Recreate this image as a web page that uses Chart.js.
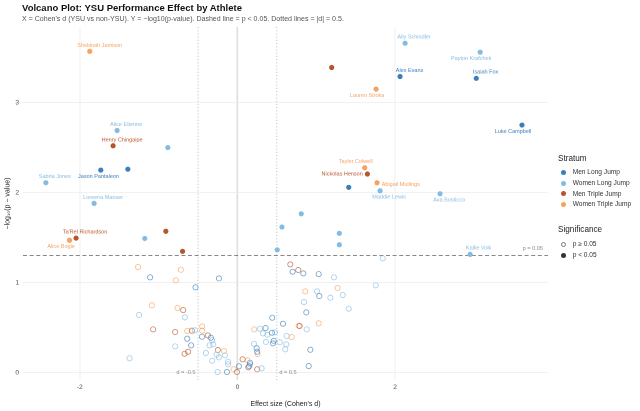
<!DOCTYPE html>
<html>
<head>
<meta charset="utf-8">
<script src="https://cdn.jsdelivr.net/npm/chart.js@4.4.1/dist/chart.umd.min.js"></script>
<style>
  body { margin: 0; background: #fff; font-family: "Liberation Sans", Arial, sans-serif; }
  #wrap { position: relative; width: 640px; height: 411px; overflow: hidden; }
  #graphCanvas { position: absolute; left: 0; top: 0; }
  .t { position: absolute; white-space: nowrap; line-height: 1; }
  #title { left: 22px; top: 2.5px; font-size: 9.5px; font-weight: bold; color: #111; }
  #subtitle { left: 22px; top: 15.4px; font-size: 7.05px; color: #555; }
  .lgTitle { font-size: 8.2px; color: #222; left: 558px; }
  .lgItem { font-size: 6.6px; color: #333; left: 572.7px; }
  .dot { position: absolute; width: 5px; height: 5px; border-radius: 50%; box-sizing: border-box; }
</style>
</head>
<body>
<div id="wrap">
  <canvas id="graphCanvas" width="640" height="411"></canvas>
  <div class="t" id="title">Volcano Plot: YSU Performance Effect by Athlete</div>
  <div class="t" id="subtitle">X = Cohen's d (YSU vs non-YSU). Y = −log10(p-value). Dashed line = p &lt; 0.05. Dotted lines = |d| = 0.5.</div>
  <div id="legend"></div>
</div>
<script>
// strata and the values (x = Cohen's d, y = -log10 p)
var strata = ['Men Long Jump', 'Women Long Jump', 'Men Triple Jump', 'Women Triple Jump'];
var significanceLevels = ['p \u2265 0.05', 'p < 0.05'];
var pCut = 0.05;
var dCut = 0.5;
var xTicks = [-2, 0, 2];
var yTicks = [0, 1, 2, 3];

var menLongNames = ['Alex Evans', 'Isaiah Fox', 'Luke Campbell', 'Jason Pantaleon', '', ''];
var menLongD = [2.063, 3.03, 3.61, -1.733, -1.39, 1.412,
  -1.107, -0.531, -0.235, -0.45, -0.637, -0.587, -0.337, 0.019, -0.133, 0.159, 0.15,
  0.244, 0.251, 0.358, 0.438, 0.46, 0.451, 0.578, 0.442, 0.7, 0.836, 1.031, 1.039,
  0.874, 0.925, 0.904];
var menLongY = [3.29, 3.27, 2.75, 2.25, 2.26, 2.058,
  1.058, 0.947, 1.046, 0.398, 0.376, 0.302, 0.387, 0.069, 0.006, 0.109, 0.07,
  0.269, 0.231, 0.494, 0.442, 0.353, 0.324, 0.542, 0.609, 1.12, 1.102, 1.094, 0.85,
  0.668, 0.253, 0.072];

var womenLongNames = ['Ally Schindler', 'Payton Krafchek', 'Alice Etienne', '', 'Sabria Jones',
  'Loreena Manser', '', 'Maddie Lewis', 'Ava Bosticco', 'Kallie Volk', '', '', '', '', ''];
var womenLongD = [2.127, 3.08, -1.526, -0.883, -2.43, -1.818, -1.175, 1.81, 2.571, 2.952,
  0.505, 0.565, 0.81, 1.293, 1.293,
  1.843, 1.755, 1.225, 1.01, 1.179, 1.336, 0.844, 1.412, 0.878, 0.625, 0.62, 0.607,
  0.536, 0.476, 0.379, 0.324, 0.286, 0.362, 0.21, 0.307, 0.159,
  -1.247, -1.369, -0.667, -0.54, -0.79, -0.4, -0.32, -0.307, -0.353, -0.264, -0.159,
  -0.235, -0.32, -0.117, -0.117, -0.251];
var womenLongY = [3.66, 3.56, 2.69, 2.5, 2.11, 1.88, 1.49, 2.02, 1.987, 1.313,
  1.364, 1.617, 1.764, 1.547, 1.42,
  1.269, 0.969, 1.058, 0.902, 0.831, 0.861, 0.783, 0.709, 0.48, 0.406, 0.313, 0.258,
  0.336, 0.446, 0.42, 0.435, 0.487, 0.339, 0.32, 0.047, 0.091,
  0.639, 0.158, 0.613, 0.469, 0.291, 0.217, 0.358, 0.313, 0.302, 0.198, 0.191,
  0.169, 0.131, 0.12, 0.091, 0.006];

var menTripleNames = ['', 'Henry Chingaipe', 'Ta\'Rel Richardson', '', '', 'Nickolas Henson'];
var menTripleD = [1.196, -1.577, -2.047, -0.908, -0.696, 1.649,
  -0.688, -1.069, -0.79, -0.578, -0.375, -0.625, -0.67, -0.248, -0.006, 0.066, 0.138,
  0.251, 0.671, 0.772, 0.79];
var menTripleY = [3.39, 2.52, 1.494, 1.57, 1.347, 2.206,
  0.694, 0.48, 0.45, 0.465, 0.413, 0.231, 0.209, 0.25, 0.006, 0.147, 0.058,
  0.036, 1.202, 1.139, 0.517];

var womenTripleNames = ['Shekinah Jamison', 'Lauren Stroka', 'Taylor Colwell', 'Abigail Mullings', 'Alice Bogie'];
var womenTripleD = [-1.873, 1.759, 1.615, 1.771, -2.13,
  -1.26, -0.717, -0.781, -1.086, -0.76, -0.447, -0.447, -0.637, -0.171, -0.048, 0.13,
  0.256, 0.213, 0.777, 1.272, 0.861, 1.031, 0.688];
var womenTripleY = [3.57, 3.15, 2.276, 2.109, 1.47,
  1.172, 1.142, 1.024, 0.747, 0.717, 0.513, 0.465, 0.461, 0.239, 0.036, 0.135,
  0.206, 0.48, 0.52, 0.939, 0.902, 0.547, 0.394];

// styling, kept apart from the values
var stratumColors = ['#3a7fb9', '#84bbe3', '#b9552b', '#f7a25f'];
var openAlpha = 0.7;
// label placement in pixels relative to the point: [dx, dy, align]
var labelNudge = {
  'Shekinah Jamison': [10, -6, 'center'], 'Ally Schindler': [9, -6, 'center'],
  'Payton Krafchek': [-9, 6.3, 'center'], 'Alex Evans': [9.5, -6, 'center'],
  'Isaiah Fox': [9.3, -6.3, 'center'], 'Lauren Stroka': [-9, 6.6, 'center'],
  'Luke Campbell': [-9, 6.4, 'center'], 'Alice Etienne': [9, -6, 'center'],
  'Henry Chingaipe': [9, -5.7, 'center'], 'Jason Pantaleon': [-2.3, 6.3, 'center'],
  'Sabria Jones': [9, -6, 'center'], 'Loreena Manser': [9, -6, 'center'],
  'Ta\'Rel Richardson': [9, -6, 'center'], 'Alice Bogie': [-8.4, 6.3, 'center'],
  'Taylor Colwell': [-9, -6, 'center'], 'Nickolas Henson': [-4.6, 0, 'right'],
  'Abigail Mullings': [4.7, 1.6, 'left'], 'Maddie Lewis': [9, 6.3, 'center'],
  'Ava Bosticco': [9, 6.3, 'center'], 'Kallie Volk': [8.5, -6.3, 'center']
};

var FONT = '"Liberation Sans", Arial, sans-serif';
var sigLine = -Math.log10(pCut);

function fade(hex, a) {
  var n = parseInt(hex.slice(1), 16);
  return 'rgba(' + (n >> 16) + ',' + ((n >> 8) & 255) + ',' + (n & 255) + ',' + a + ')';
}

function makeSet(i, xs, ys, names) {
  var col = stratumColors[i];
  return {
    label: strata[i],
    data: xs.map(function (v, j) { return { x: v, y: ys[j], name: names[j] || '' }; }),
    pointRadius: 2.6,
    pointHoverRadius: 2.6,
    pointBackgroundColor: function (c) { return c.raw && c.raw.y > sigLine ? col : 'rgba(0,0,0,0)'; },
    pointBorderColor: function (c) { return c.raw && c.raw.y > sigLine ? col : fade(col, openAlpha); },
    pointBorderWidth: function (c) { return c.raw && c.raw.y > sigLine ? 0 : 0.85; },
    color: col
  };
}

var refLines = {
  id: 'refLines',
  beforeDatasetsDraw: function (chart) {
    var ctx = chart.ctx, a = chart.chartArea, xs = chart.scales.x, ys = chart.scales.y;
    ctx.save();
    ctx.lineWidth = 0.8;
    ctx.strokeStyle = '#b5b5b5';
    ctx.setLineDash([1.2, 2]);
    [-dCut, dCut].forEach(function (d) {
      var px = xs.getPixelForValue(d);
      ctx.beginPath(); ctx.moveTo(px, a.top); ctx.lineTo(px, a.bottom); ctx.stroke();
    });
    ctx.strokeStyle = '#777';
    ctx.lineWidth = 0.9;
    ctx.setLineDash([4, 2.6]);
    var py = ys.getPixelForValue(sigLine);
    ctx.beginPath(); ctx.moveTo(a.left, py); ctx.lineTo(a.right, py); ctx.stroke();
    ctx.setLineDash([]);

    ctx.font = '5.6px ' + FONT;
    ctx.fillStyle = '#8a8a8a';
    ctx.textBaseline = 'middle';
    ctx.textAlign = 'right';
    ctx.fillText('p = 0.05', a.right - 5, py - 7);
    ctx.fillText('d = -' + dCut, xs.getPixelForValue(-dCut) - 2.5, ys.getPixelForValue(0));
    ctx.textAlign = 'left';
    ctx.fillText('d = ' + dCut, xs.getPixelForValue(dCut) + 2.5, ys.getPixelForValue(0));
    ctx.restore();
  },
  afterDatasetsDraw: function (chart) {
    var ctx = chart.ctx;
    ctx.save();
    ctx.font = '5.5px ' + FONT;
    ctx.textBaseline = 'middle';
    chart.data.datasets.forEach(function (ds, i) {
      var meta = chart.getDatasetMeta(i);
      ds.data.forEach(function (p, j) {
        if (!p.name) return;
        var el = meta.data[j], n = labelNudge[p.name] || [0, -6, 'center'];
        ctx.fillStyle = ds.color;
        ctx.textAlign = n[2];
        ctx.fillText(p.name, el.x + n[0], el.y + n[1]);
      });
    });
    ctx.restore();
  }
};

var graphTarget = document.getElementById('graphCanvas');
var scatter = new Chart(graphTarget, {
  type: 'scatter',
  data: {
    datasets: [
      makeSet(0, menLongD, menLongY, menLongNames),
      makeSet(1, womenLongD, womenLongY, womenLongNames),
      makeSet(2, menTripleD, menTripleY, menTripleNames),
      makeSet(3, womenTripleD, womenTripleY, womenTripleNames)
    ]
  },
  options: {
    responsive: false,
    animation: false,
    devicePixelRatio: 2,
    layout: { padding: { left: 0, right: 92, top: 27, bottom: 0 } },
    plugins: { legend: { display: false }, tooltip: { enabled: false }, title: { display: false } },
    scales: {
      x: {
        type: 'linear', min: -2.72, max: 3.94,
        afterBuildTicks: function (s) { s.ticks = xTicks.map(function (v) { return { value: v }; }); },
        afterFit: function (s) { s.height = 31; },
        border: { display: false },
        grid: {
          drawTicks: false,
          color: function (c) { return c.tick && c.tick.value === 0 ? '#dedede' : '#ececec'; },
          lineWidth: function (c) { return c.tick && c.tick.value === 0 ? 1.6 : 0.8; }
        },
        ticks: { padding: 3, color: '#4d4d4d', font: { family: FONT, size: 6.6 } },
        title: { display: true, text: "Effect size (Cohen's d)", color: '#222', padding: { top: 0, bottom: 2.6 }, font: { family: FONT, size: 7 } }
      },
      y: {
        type: 'linear', min: -0.083, max: 3.84,
        afterBuildTicks: function (s) { s.ticks = yTicks.map(function (v) { return { value: v }; }); },
        afterFit: function (s) { s.width = 23; },
        border: { display: false },
        grid: { drawTicks: false, color: '#ececec', lineWidth: 0.8 },
        ticks: { padding: 4, color: '#4d4d4d', font: { family: FONT, size: 6.6 } },
        title: { display: true, text: '\u2212log\u2081\u2080(p \u2212 value)', color: '#222', padding: { top: 3.6, bottom: 0 }, font: { family: FONT, size: 7 } }
      }
    }
  },
  plugins: [refLines]
});

// legend built as plain html next to the canvas
(function () {
  var lg = document.getElementById('legend'), html = '';
  html += '<div class="t lgTitle" style="top:154.9px">Stratum</div>';
  strata.forEach(function (s, i) {
    var cy = 172.7 + i * 10.55;
    html += '<div class="dot" style="left:561.2px;top:' + (cy - 2.5) + 'px;background:' + stratumColors[i] + '"></div>';
    html += '<div class="t lgItem" style="top:' + (cy - 3.3) + 'px">' + s + '</div>';
  });
  html += '<div class="t lgTitle" style="top:226.2px">Significance</div>';
  significanceLevels.forEach(function (s, i) {
    var cy = 244.3 + i * 11;
    var st = i === 0 ? 'border:0.9px solid #777;background:transparent' : 'background:#333';
    html += '<div class="dot" style="left:561.2px;top:' + (cy - 2.5) + 'px;' + st + '"></div>';
    html += '<div class="t lgItem" style="top:' + (cy - 3.3) + 'px">' + s.replace('<', '&lt;') + '</div>';
  });
  lg.innerHTML = html;
})();
</script>
</body>
</html>
